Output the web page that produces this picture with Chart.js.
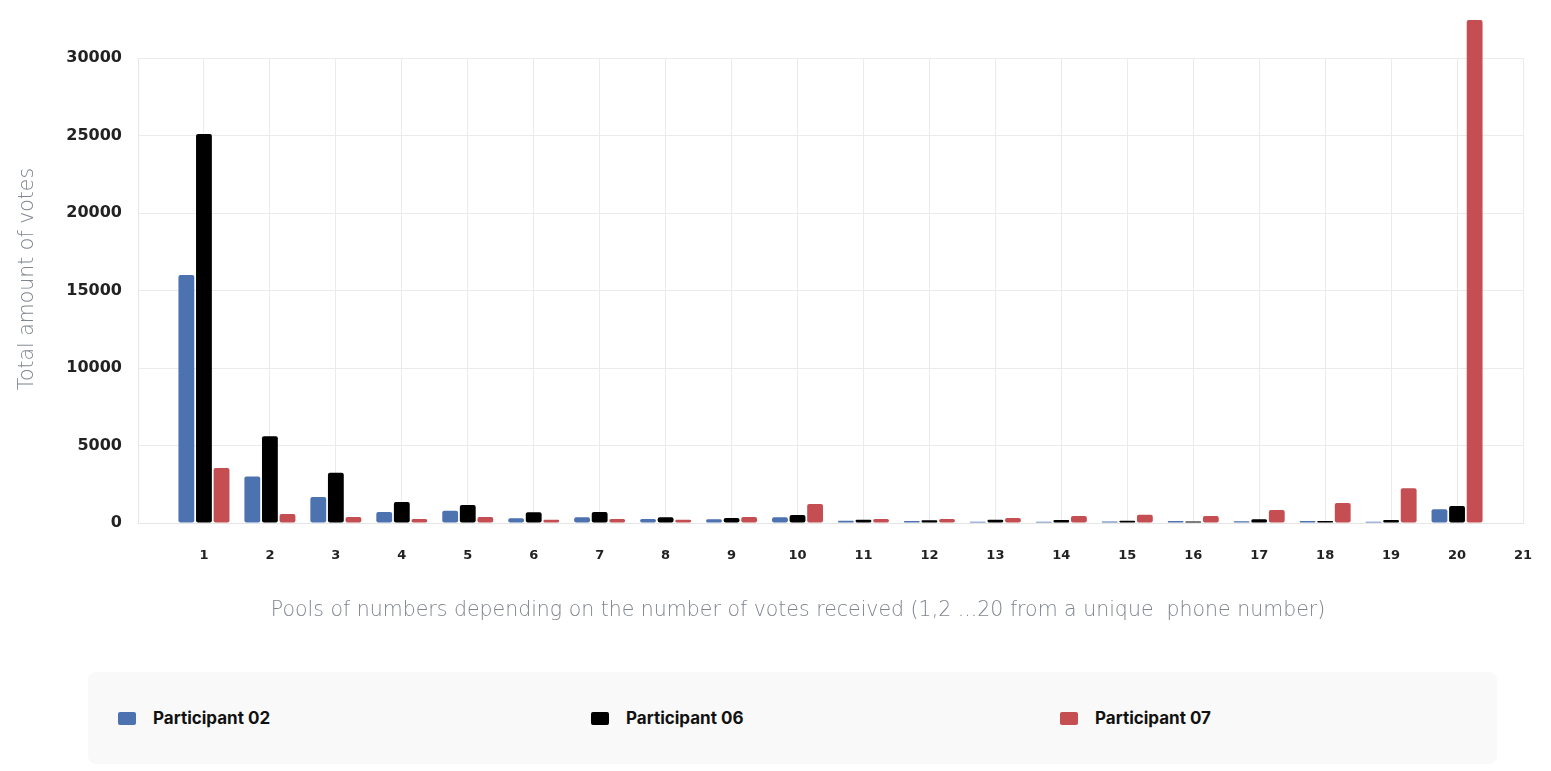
<!DOCTYPE html>
<html>
<head>
<meta charset="utf-8">
<script src="https://cdn.jsdelivr.net/npm/chart.js@4.4.1/dist/chart.umd.min.js"></script>
<style>
  html, body { margin: 0; padding: 0; background: #ffffff; }
  body { width: 1551px; height: 771px; position: relative; overflow: hidden; }
  #wrap { position: absolute; left: 0; top: 0; width: 1551px; height: 650px; }
  #legend {
    position: absolute; left: 88px; top: 672px; width: 1409px; height: 92px;
    background: #f9f9f9; border-radius: 8px;
    font-family: Inter, "Noto Sans", sans-serif; font-weight: 700; font-size: 17px; color: #111;
  }
  .item { position: absolute; top: 0; height: 92px; display: flex; align-items: center; }
  .sw { width: 18px; height: 13px; border-radius: 2px; margin-right: 17px; }
</style>
</head>
<body>
<div id="wrap"><canvas id="c"></canvas></div>
<div id="legend"></div>
<script>
const categories = ['', '1','2','3','4','5','6','7','8','9','10','11','12','13','14','15','16','17','18','19','20','21'];
const seriesNames = ['Participant 02', 'Participant 06', 'Participant 07'];
const participant02 = [null, 16000, 3000, 1680, 710, 790, 300, 370, 260, 240, 370, 150, 130, 80, 80, 100, 130, 120, 130, 80, 880, null];
const participant06 = [null, 25100, 5600, 3250, 1350, 1160, 690, 710, 370, 320, 520, 210, 170, 210, 190, 150, 90, 240, 130, 190, 1100, null];
const participant07 = [null, 3550, 580, 390, 260, 390, 210, 260, 210, 390, 1230, 260, 260, 320, 450, 540, 450, 840, 1290, 2240, 32450, null];
const yTicks = [0, 5000, 10000, 15000, 20000, 25000, 30000];
const colors = ['#4C72B0', '#000000', '#C44E52'];
const legendOffsets = [30, 503, 972];
const xTitle = 'Pools of numbers depending on the number of votes received (1,2 ...20 from a unique  phone number)';
const yTitle = 'Total amount of votes';

const tickFont = { family: '"DejaVu Sans", sans-serif', weight: 'bold' };
const titleFontCss = '200 20.5px "DejaVu Sans", sans-serif';
const titleColor = '#7f848d';

const axisTitles = {
  id: 'axisTitles',
  afterDraw(chart) {
    const ctx = chart.ctx;
    ctx.save();
    ctx.font = titleFontCss;
    ctx.fillStyle = titleColor;
    ctx.textAlign = 'center';
    ctx.textBaseline = 'middle';
    ctx.fillText(xTitle, 798, 611);
    ctx.translate(28, 279);
    ctx.rotate(-Math.PI / 2);
    ctx.fillText(yTitle, 0, 0);
    ctx.restore();
  }
};

const datasets = [participant02, participant06, participant07].map((d, i) => ({
  label: seriesNames[i],
  data: d,
  backgroundColor: colors[i],
  borderWidth: 0,
  borderRadius: 2,
  borderSkipped: false,
  clip: false
}));

new Chart(document.getElementById('c'), {
  type: 'bar',
  data: { labels: categories, datasets },
  plugins: [axisTitles],
  options: {
    responsive: true,
    maintainAspectRatio: false,
    animation: false,
    layout: { padding: { left: 0, right: 28, top: 58, bottom: 28 } },
    plugins: { legend: { display: false }, tooltip: { enabled: false } },
    scales: {
      x: {
        type: 'category',
        offset: false,
        grid: { offset: false, color: '#ebebeb', drawTicks: false },
        border: { color: '#e6e6e6' },
        ticks: { autoSkip: false, maxRotation: 0, padding: 25, color: '#222', font: { ...tickFont, size: 13 } },
        afterFit: (s) => { s.height = 99; s.paddingRight = 0; s.paddingLeft = 0; }
      },
      y: {
        min: 0, max: 30000,
        afterBuildTicks: (s) => { s.ticks = yTicks.map(v => ({ value: v })); },
        grid: { color: '#ebebeb', drawTicks: false },
        border: { color: '#e6e6e6' },
        ticks: { padding: 16, color: '#222', font: { ...tickFont, size: 16 }, callback: (v) => String(v) },
        afterFit: (s) => { s.width = 138; }
      }
    }
  }
});

const legend = document.getElementById('legend');
seriesNames.forEach((n, i) => {
  const it = document.createElement('div');
  it.className = 'item';
  it.style.left = legendOffsets[i] + 'px';
  it.innerHTML = '<span class="sw" style="background:' + colors[i] + '"></span><span>' + n + '</span>';
  legend.appendChild(it);
});
</script>
</body>
</html>
